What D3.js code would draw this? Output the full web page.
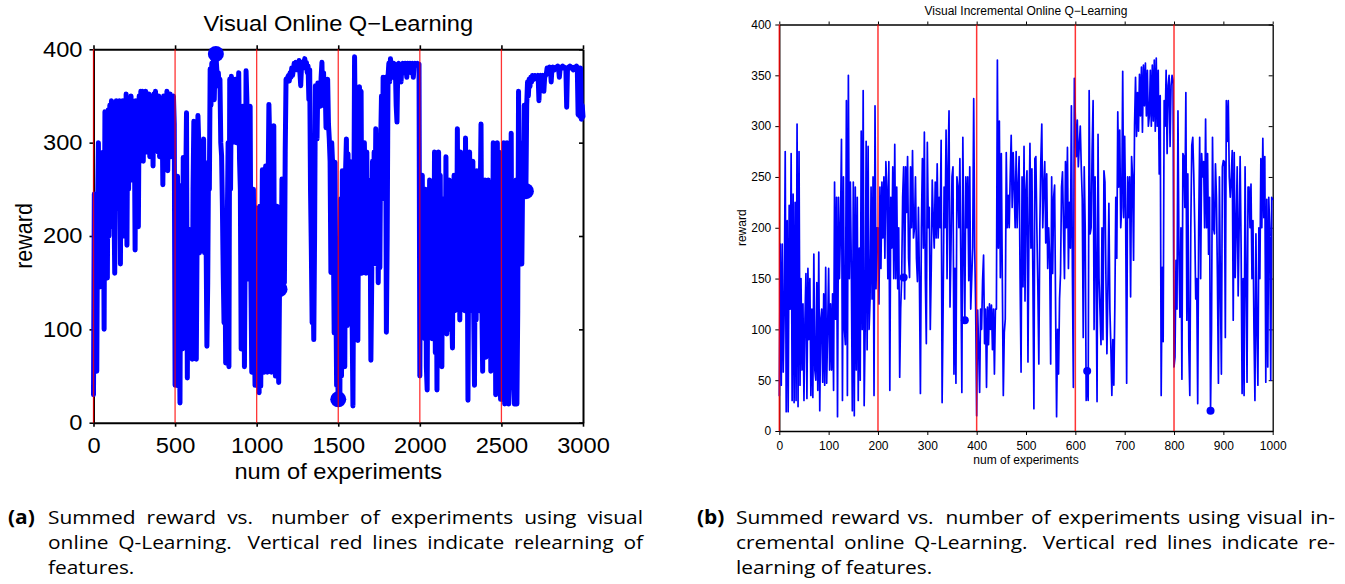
<!DOCTYPE html>
<html>
<head>
<meta charset="utf-8">
<script src="https://cdn.jsdelivr.net/npm/d3@7"></script>
<style>
  body { margin: 0; background: #fff; }
  svg { display: block; }
</style>
</head>
<body>
<svg id="fig" width="1345" height="584"></svg>
<script>
// ---------- (a) visual online Q-learning: summed reward every 5 experiments ----------
const onlineStep = 5;
const onlineReward = [
  30, 245, 55, 240, 55, 230, 300, 145, 280, 150, 270, 160, 290, 100, 333, 160, 320, 155, 335, 200,
  340, 210, 345, 220, 335, 250, 160, 300, 345, 230, 330, 240, 345, 170, 335, 240, 345, 200, 340, 230,
  352, 190, 345, 250, 340, 280, 350, 260, 345, 290, 330, 185, 345, 270, 340, 210, 350, 280, 355, 290,
  355, 280, 350, 300, 355, 290, 348, 310, 352, 285, 350, 300, 345, 275, 352, 295, 355, 300, 345, 290,
  350, 285, 345, 300, 340, 255, 350, 280, 345, 290, 355, 270, 348, 300, 352, 285, 345, 300, 350, 320,
  40, 60, 200, 264, 39, 120, 21, 254, 150, 79, 284, 200, 90, 250, 332, 48, 200, 150, 207, 79,
  180, 68, 250, 323, 200, 110, 68, 200, 329, 300, 182, 250, 280, 200, 240, 304, 182, 250, 200, 82,
  150, 279, 250, 379, 340, 385, 350, 390, 346, 385, 395, 380, 368, 375, 360, 368, 300, 286, 232, 160,
  107, 200, 64, 150, 214, 300, 60, 368, 250, 371, 300, 354, 318, 360, 368, 300, 366, 340, 375, 282,
  250, 79, 150, 339, 268, 60, 200, 377, 346, 200, 154, 300, 339, 150, 54, 200, 250, 120, 40, 230,
  230, 40, 211, 32, 232, 39, 150, 271, 60, 54, 200, 275, 120, 54, 250, 341, 300, 200, 54, 282,
  150, 318, 70, 50, 200, 232, 100, 43, 143, 200, 143, 261, 220, 200, 150, 290, 368, 365, 370, 372,
  366, 375, 370, 380, 372, 378, 385, 380, 386, 378, 384, 382, 388, 375, 361, 383, 386, 380, 382, 390,
  380, 386, 375, 382, 346, 378, 250, 186, 107, 160, 89, 200, 361, 320, 304, 364, 340, 364, 339, 370,
  386, 340, 375, 346, 360, 316, 345, 368, 320, 304, 280, 161, 300, 279, 200, 96, 279, 150, 40, 60,
  25, 180, 30, 240, 50, 270, 100, 240, 60, 270, 304, 104, 288, 150, 280, 200, 250, 110, 18, 200,
  392, 300, 150, 320, 88, 250, 360, 200, 355, 160, 270, 180, 300, 240, 160, 290, 180, 260, 160, 240,
  67, 150, 280, 170, 290, 200, 315, 170, 260, 150, 250, 166, 300, 350, 240, 370, 360, 300, 370, 97,
  200, 370, 385, 365, 390, 380, 385, 370, 385, 383, 380, 340, 322, 384, 385, 380, 383, 365, 384, 385,
  383, 375, 385, 383, 370, 385, 384, 383, 385, 375, 384, 385, 370, 384, 385, 383, 384, 385, 383, 384,
  50, 240, 100, 265, 120, 230, 90, 250, 60, 35, 210, 110, 260, 120, 250, 90, 240, 120, 290, 75,
  230, 35, 200, 290, 130, 265, 100, 60, 240, 125, 230, 110, 285, 95, 240, 100, 260, 130, 250, 120,
  80, 230, 265, 120, 240, 130, 315, 140, 250, 110, 290, 130, 240, 150, 260, 120, 305, 140, 230, 24,
  200, 290, 130, 250, 120, 280, 120, 40, 230, 110, 270, 140, 250, 120, 240, 320, 130, 55, 230, 100,
  260, 70, 200, 120, 260, 100, 240, 55, 200, 120, 300, 90, 250, 30, 180, 300, 100, 290, 60, 25,
  210, 25, 150, 300, 20, 200, 100, 300, 40, 20, 250, 150, 310, 60, 250, 40, 20, 200, 260, 20,
  120, 355, 170, 300, 200, 170, 260, 248, 340, 260, 248, 340, 365, 350, 368, 360, 370, 365, 372, 370,
  368, 372, 370, 371, 370, 372, 345, 370, 372, 371, 370, 372, 355, 370, 372, 373, 380, 375, 380, 381,
  380, 365, 380, 381, 380, 378, 380, 381, 380, 382, 380, 370, 380, 381, 380, 382, 380, 381, 380, 380,
  338, 380, 381, 380, 382, 380, 381, 380, 378, 380, 381, 380, 382, 380, 330, 380, 328, 380, 325, 340,
  328
];
const onlineRelearn = [0, 500, 1000, 1500, 2000, 2500];
const onlineMarkers = [[750, 395], [1140, 143], [1500, 25], [2650, 248]];
const onlineXTicks = [0, 500, 1000, 1500, 2000, 2500, 3000];
const onlineYTicks = [0, 100, 200, 300, 400];

// ---------- (b) visual incremental online Q-learning: summed reward every 2 experiments ----------
const incStep = 2;
const incReward = [
  35, 184, 45, 184, 58, 120, 275, 19, 207, 19, 222, 120, 273, 30, 233, 28, 225, 30, 302, 24, 275, 45, 150, 60, 125,
  30, 110, 155, 32, 160, 90, 150, 35, 120, 33, 174, 60, 50, 146, 40, 176, 20, 110, 120, 48, 135, 45, 161, 47, 100,
  160, 60, 125, 60, 135, 40, 245, 110, 230, 14, 230, 150, 200, 287, 30, 250, 100, 85, 325, 35, 350, 150, 245, 160, 20,
  245, 15, 240, 60, 230, 30, 180, 50, 295, 100, 335, 25, 100, 285, 80, 280, 100, 130, 240, 130, 250, 35, 320, 140, 200,
  200, 125, 240, 160, 245, 190, 250, 170, 265, 240, 150, 265, 40, 230, 180, 260, 150, 282, 150, 240, 140, 200, 53, 120, 150,
  230, 260, 130, 260, 215, 270, 170, 151, 260, 200, 276, 190, 200, 250, 170, 147, 220, 150, 37, 200, 268, 180, 294, 150, 86,
  284, 200, 220, 100, 161, 247, 207, 180, 245, 190, 263, 190, 230, 200, 286, 28, 120, 240, 200, 296, 150, 260, 315, 122, 180,
  250, 260, 56, 160, 47, 250, 240, 200, 268, 160, 38, 289, 180, 109, 250, 200, 250, 148, 260, 120, 150, 180, 327, 181, 120,
  15, 119, 83, 38, 120, 100, 148, 173, 86, 120, 43, 122, 85, 125, 100, 124, 80, 120, 56, 120, 120, 365, 180, 305, 151,
  273, 150, 35, 97, 110, 274, 200, 232, 200, 250, 291, 220, 274, 240, 200, 275, 200, 240, 270, 150, 58, 250, 142, 280, 128,
  237, 256, 68, 200, 283, 180, 258, 150, 22, 268, 270, 200, 142, 66, 200, 265, 302, 200, 240, 265, 185, 253, 160, 200, 170,
  66, 250, 155, 230, 242, 120, 14, 100, 56, 130, 155, 240, 255, 200, 150, 265, 200, 279, 160, 225, 180, 320, 160, 43, 347,
  307, 270, 306, 260, 281, 300, 260, 228, 92, 260, 200, 30, 59, 30, 335, 194, 200, 276, 325, 100, 250, 160, 29, 292, 150,
  118, 85, 200, 90, 256, 245, 150, 76, 140, 224, 120, 83, 35, 90, 45, 120, 230, 170, 314, 240, 296, 200, 220, 354, 210,
  290, 210, 47, 250, 210, 250, 132, 270, 250, 168, 300, 348, 290, 333, 295, 351, 310, 358, 294, 360, 320, 362, 310, 355, 300,
  310, 355, 300, 360, 305, 365, 295, 367, 300, 355, 253, 330, 35, 161, 88, 325, 300, 355, 273, 340, 350, 280, 340, 350, 345,
  63, 73, 168, 120, 315, 174, 112, 200, 51, 273, 270, 220, 333, 109, 253, 83, 35, 200, 281, 289, 253, 200, 130, 150, 27,
  200, 289, 150, 273, 250, 265, 200, 307, 200, 273, 174, 230, 20, 99, 289, 200, 194, 263, 230, 150, 47, 250, 142, 56, 260,
  266, 265, 92, 325, 285, 325, 250, 230, 250, 276, 109, 274, 151, 200, 260, 133, 200, 270, 180, 37, 150, 35, 260, 150, 48,
  240, 240, 200, 243, 150, 207, 100, 30, 194, 100, 45, 200, 150, 268, 200, 288, 210, 270, 48, 228, 63, 230, 200, 50, 230, 228
];
const incRelearn = [0, 200, 400, 600, 800];
const incMarkers = [[252, 151], [376, 109], [624, 59], [874, 20]];
const incXTicks = [0, 100, 200, 300, 400, 500, 600, 700, 800, 900, 1000];
const incYTicks = [0, 50, 100, 150, 200, 250, 300, 350, 400];

// ---------- captions ----------
const captionA = [
  "Summed reward vs.  number of experiments using visual",
  "online Q-Learning.  Vertical red lines indicate relearning of",
  "features."
];
const captionB = [
  "Summed reward vs.  number of experiments using visual in-",
  "cremental online Q-Learning.  Vertical red lines indicate re-",
  "learning of features."
];

const svg = d3.select("#fig");
const chartFont = "'Liberation Sans', Arial, Helvetica, sans-serif";

function drawPanel(cfg) {
  const g = svg.append("g");
  const sx = cfg.textStretch;
  const x = d3.scaleLinear().domain(cfg.xDomain).range([cfg.left, cfg.right]);
  const y = d3.scaleLinear().domain([0, 400]).range([cfg.bottom, cfg.top]);

  const styleAxis = sel => {
    sel.attr("font-family", chartFont).attr("font-size", cfg.tickFont);
    sel.selectAll(".domain").attr("stroke", "#000").attr("stroke-width", cfg.frameWidth);
    sel.selectAll(".tick line").attr("stroke", "#000").attr("stroke-width", cfg.tickWidth);
    sel.selectAll(".tick text").attr("fill", "#000");
  };

  // frame with ticks on all four sides
  g.append("g").attr("transform", `translate(0,${cfg.bottom})`)
    .call(d3.axisBottom(x).tickValues(cfg.xTicks).tickSize(cfg.tick.bottom).tickSizeOuter(0)
      .tickPadding(cfg.xPad).tickFormat(d3.format("d")))
    .call(styleAxis)
    .selectAll(".tick text").attr("transform", `scale(${sx},1)`);
  const yAxis = g.append("g").attr("transform", `translate(${cfg.left},0)`)
    .call(d3.axisLeft(y).tickValues(cfg.yTicks).tickSize(cfg.tick.left).tickSizeOuter(0)
      .tickPadding(cfg.yPad).tickFormat(d3.format("d")))
    .call(styleAxis);
  yAxis.selectAll(".tick text")
    .attr("x", -(cfg.tick.left + cfg.yPad) / sx)
    .attr("transform", `scale(${sx},1)`);
  g.append("g").attr("transform", `translate(0,${cfg.top})`)
    .call(d3.axisTop(x).tickValues(cfg.xTicks).tickSize(cfg.tick.top).tickSizeOuter(0).tickFormat(""))
    .call(styleAxis);
  g.append("g").attr("transform", `translate(${cfg.right},0)`)
    .call(d3.axisRight(y).tickValues(cfg.yTicks).tickSize(cfg.tick.right).tickSizeOuter(0).tickFormat(""))
    .call(styleAxis);

  // reward curve
  const line = d3.line()
    .x((d, i) => x(i * cfg.step))
    .y(d => y(d));
  g.append("path")
    .datum(cfg.values)
    .attr("d", line)
    .attr("fill", "none")
    .attr("stroke", "#0000ff")
    .attr("stroke-width", cfg.lineWidth)
    .attr("stroke-linejoin", "round")
    .attr("stroke-linecap", "round");

  g.selectAll("circle.mark")
    .data(cfg.markers)
    .join("circle")
    .attr("class", "mark")
    .attr("cx", d => x(d[0]))
    .attr("cy", d => y(d[1]))
    .attr("r", cfg.markerR)
    .attr("fill", "#0000ff");

  // relearning of features
  g.selectAll("line.relearn")
    .data(cfg.relearn)
    .join("line")
    .attr("class", "relearn")
    .attr("x1", d => x(d)).attr("x2", d => x(d))
    .attr("y1", cfg.top).attr("y2", cfg.bottom)
    .attr("stroke", "#ff0000")
    .attr("stroke-opacity", 0.8)
    .attr("stroke-width", cfg.redWidth);

  // titles
  const cx = (cfg.left + cfg.right) / 2;
  g.append("text")
    .attr("transform", `translate(${cx},${cfg.titleY}) scale(${sx},1)`)
    .attr("text-anchor", "middle")
    .attr("font-family", chartFont).attr("font-size", cfg.titleFont)
    .text(cfg.title);
  g.append("text")
    .attr("transform", `translate(${cx},${cfg.xLabelY}) scale(${sx},1)`)
    .attr("text-anchor", "middle")
    .attr("font-family", chartFont).attr("font-size", cfg.labelFont)
    .text("num of experiments");
  g.append("text")
    .attr("transform", `translate(${cfg.yLabelX},${(cfg.top + cfg.bottom) / 2}) rotate(-90) scale(1,${sx})`)
    .attr("text-anchor", "middle")
    .attr("font-family", chartFont).attr("font-size", cfg.labelFont)
    .text("reward");
}

drawPanel({
  title: "Visual Online Q\u2212Learning",
  xDomain: [0, 3000], values: onlineReward, step: onlineStep,
  relearn: onlineRelearn, markers: onlineMarkers,
  xTicks: onlineXTicks, yTicks: onlineYTicks,
  left: 93.5, right: 583, top: 49.3, bottom: 422.7,
  tick: { bottom: 4, top: 4, left: 4, right: -4 },
  xPad: 11, yPad: 7, textStretch: 1.1,
  tickFont: 21.5, labelFont: 21.5, titleFont: 21.5,
  titleY: 31, xLabelY: 479, yLabelX: 32,
  frameWidth: 2, tickWidth: 1.6, lineWidth: 5, markerR: 8, redWidth: 1.3
});

drawPanel({
  title: "Visual Incremental Online Q\u2212Learning",
  xDomain: [0, 1000], values: incReward, step: incStep,
  relearn: incRelearn, markers: incMarkers,
  xTicks: incXTicks, yTicks: incYTicks,
  left: 779.3, right: 1272.7, top: 24.5, bottom: 431,
  tick: { bottom: 4, top: 3, left: 4, right: -4 },
  xPad: 6, yPad: 4, textStretch: 1,
  tickFont: 12, labelFont: 12, titleFont: 12,
  titleY: 15, xLabelY: 464, yLabelX: 746,
  frameWidth: 1.3, tickWidth: 1, lineWidth: 1.7, markerR: 4, redWidth: 1.5
});

// ---------- justified captions ----------
const capFont = "'Open Sans', 'Noto Sans', sans-serif";
const capStretch = 1.1;
function caption(tag, lines, tagX, x0, x1, baseline, lead) {
  const outer = svg.append("g").attr("transform", `translate(${tagX},0) scale(${capStretch},1)`);
  const g = outer.append("g").attr("font-family", capFont).attr("font-size", 19).attr("fill", "#000");
  const lx0 = (x0 - tagX) / capStretch, lx1 = (x1 - tagX) / capStretch;
  g.append("text").attr("x", 0).attr("y", baseline).attr("font-weight", "bold").text(tag);
  lines.forEach((ln, li) => {
    const y = baseline + li * lead;
    const last = li === lines.length - 1;
    if (last) {
      g.append("text").attr("x", lx0).attr("y", y).text(ln);
      return;
    }
    const words = ln.split(/\s+/);
    const nodes = words.map(w => g.append("text").attr("y", y).text(w));
    const widths = nodes.map(n => n.node().getComputedTextLength());
    // wider gap after a full stop, as in typeset text
    const weights = words.slice(0, -1).map(w => /\.$/.test(w) ? 1.6 : 1);
    const unit = (lx1 - lx0 - d3.sum(widths)) / d3.sum(weights);
    let cx = lx0;
    nodes.forEach((n, i) => {
      n.attr("x", cx);
      cx += widths[i] + (i < weights.length ? weights[i] * unit : 0);
    });
  });
}
caption("(a)", captionA, 8, 48, 643, 524, 25);
caption("(b)", captionB, 697, 736, 1335, 524, 25);
</script>
</body>
</html>
